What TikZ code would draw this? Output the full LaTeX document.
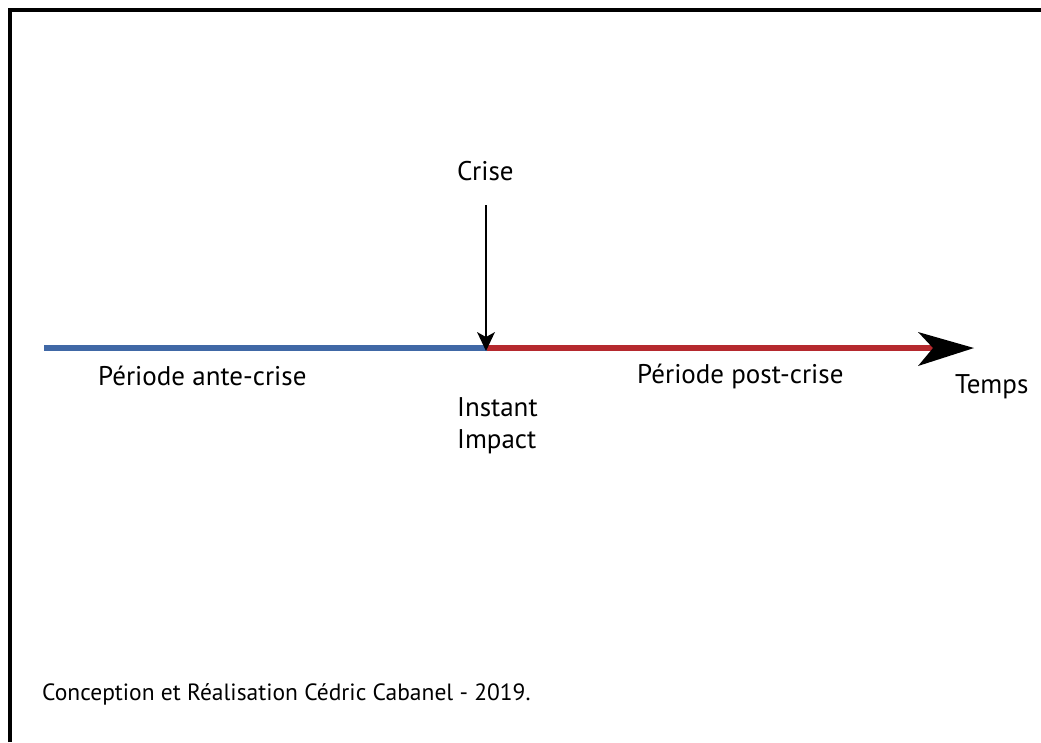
\documentclass[tikz,border=0pt]{standalone}
\usepackage{fontspec}
\setmainfont{PT Sans}
\definecolor{antecol}{HTML}{4068A6}
\definecolor{postcol}{HTML}{B5292E}
\begin{document}
\begin{tikzpicture}[x=1pt,y=-1pt,
  lbl/.style={inner sep=0pt,anchor=base west,font=\fontsize{27}{32}\selectfont},
  credit/.style={inner sep=0pt,anchor=base west,font=\fontsize{23.5}{28}\selectfont}]
\useasboundingbox (0,0) rectangle (1041,742);
\fill[white] (0,0) rectangle (1041,742);
% frame
\draw[line width=4pt] (10,742) -- (10,10) -- (1041,10);
% timeline
\coordinate (start) at (44,348);
\coordinate (impact) at (487,348);
\coordinate (endline) at (935,348);
\coordinate (tip) at (974,348);
\draw[antecol,line width=6pt] (start) -- (impact);
\draw[postcol,line width=6pt] (impact) -- (endline);
\fill[black] (tip) -- (918,332) -- (933,348) -- (918,366) -- cycle;
% crisis arrow
\coordinate (ctop) at (486,205);
\draw[line width=1.5pt] (ctop) -- (486,338);
\fill[black] (486,351) -- (477,332) -- (486,337) -- (495,332) -- cycle;
% labels
\node[lbl] (crise) at (457,180) {Crise};
\node[lbl] (ante) at (98,385) {Période ante-crise};
\node[lbl] (post) at (637,383) {Période post-crise};
\node[lbl] (temps) at (955,393) {Temps};
\node[lbl] (instant) at (457,416) {Instant};
\node[lbl] (impactlbl) at (457,448) {Impact};
\node[credit] (cred) at (42,700) {Conception et Réalisation Cédric Cabanel - 2019.};
\end{tikzpicture}
\end{document}
